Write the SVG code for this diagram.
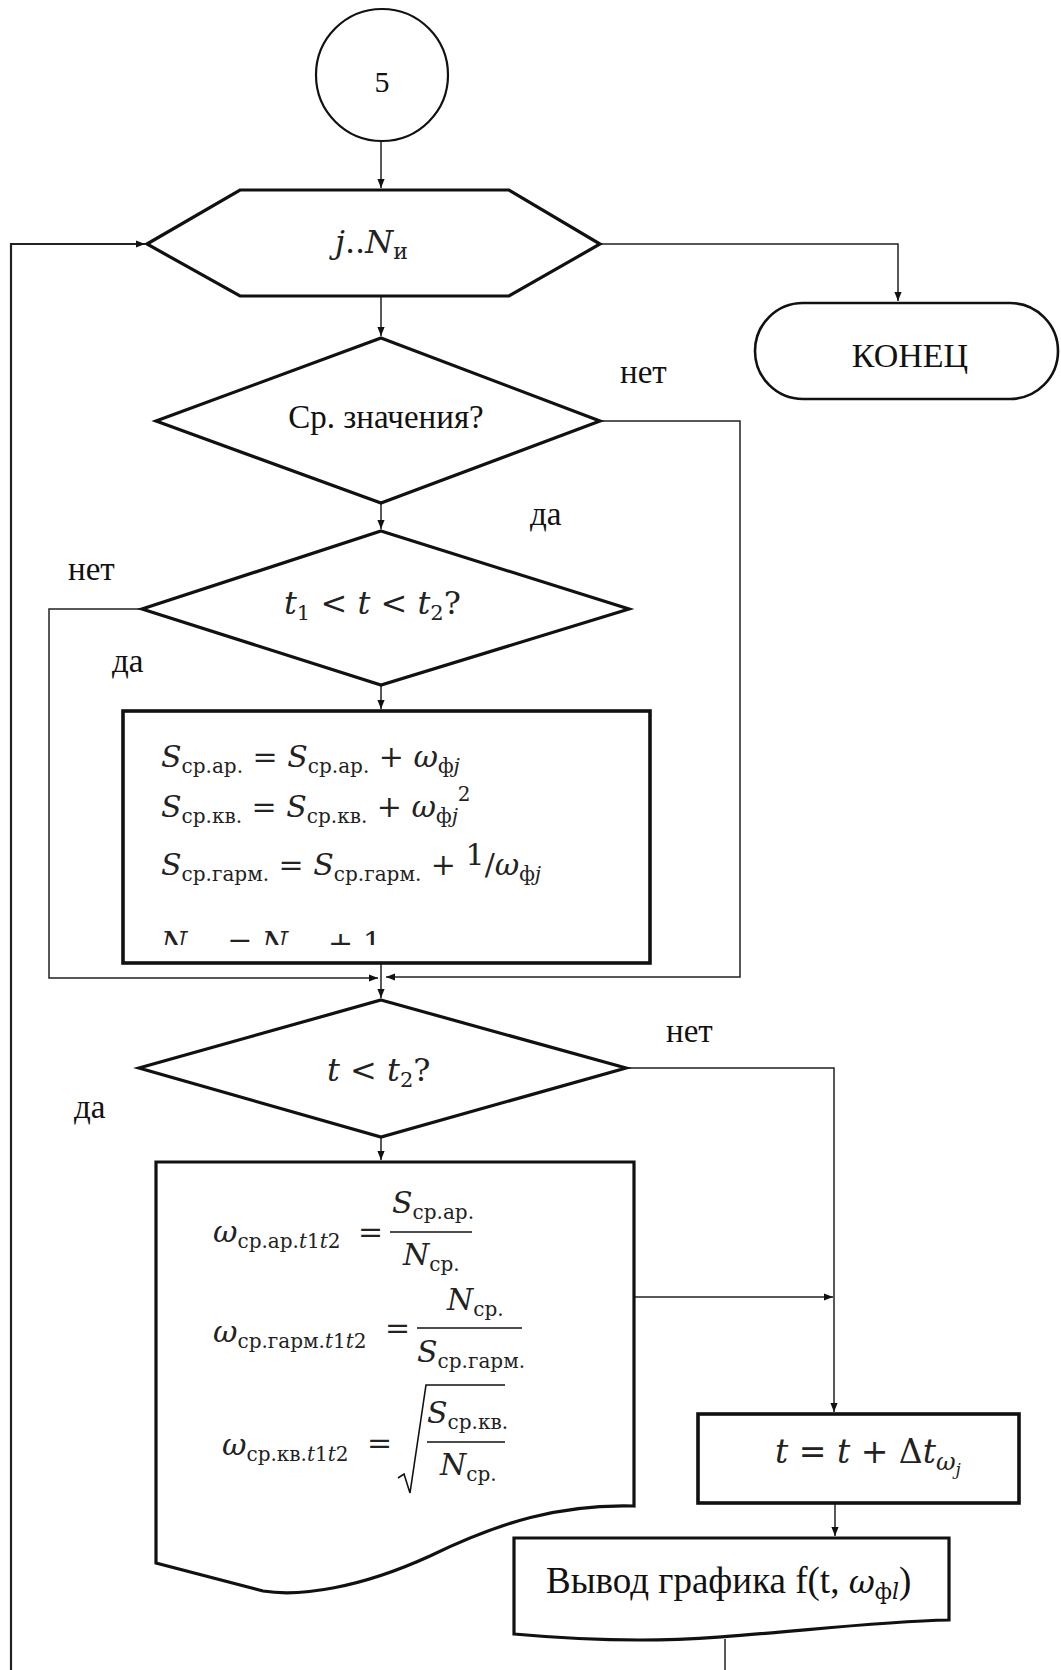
<svg xmlns="http://www.w3.org/2000/svg" width="1061" height="1670" viewBox="0 0 1061 1670">
<style>
.shape{fill:#fff;stroke:#111;stroke-width:3.2;stroke-linejoin:miter}
.thin{fill:none;stroke:#111;stroke-width:1.6}
.conn{fill:none;stroke:#222;stroke-width:1.5}
.lbl{font-family:"Liberation Serif","Times New Roman",serif;font-size:33px;fill:#111}
.m{font-family:"DejaVu Serif",serif;font-size:30px;fill:#222}
.i{font-style:italic}
.s{font-size:20px}
</style>
<defs>
<marker id="arr" viewBox="0 0 10 10" refX="10" refY="5" markerWidth="9" markerHeight="9" markerUnits="userSpaceOnUse" orient="auto">
<path d="M0,1 L10,5 L0,9 Z" fill="#111"/>
</marker>
<clipPath id="clipN"><rect x="125" y="900" width="520" height="45"/></clipPath>
</defs>
<rect width="1061" height="1670" fill="#fff"/>

<g id="connectors">
<path class="conn" d="M381,141 V188" marker-end="url(#arr)"/>
<path class="conn" d="M600,244 H898 V301" marker-end="url(#arr)"/>
<path class="conn" d="M381,296 V336" marker-end="url(#arr)"/>
<path class="conn" d="M600,421 H740 V977 H386" marker-end="url(#arr)"/>
<path class="conn" d="M381,503 V529" marker-end="url(#arr)"/>
<path class="conn" d="M142,609 H49 V978 H378" marker-end="url(#arr)"/>
<path class="conn" d="M381,685 V709" marker-end="url(#arr)"/>
<path class="conn" d="M381,963 V998" marker-end="url(#arr)"/>
<path class="conn" d="M626,1068 H834 V1412" marker-end="url(#arr)"/>
<path class="conn" d="M381,1137 V1160" marker-end="url(#arr)"/>
<path class="conn" d="M634,1297 H833" marker-end="url(#arr)"/>
<path class="conn" d="M835,1503 V1536" marker-end="url(#arr)"/>
<path class="conn" d="M725,1639 V1670"/>
<path class="conn" style="stroke-width:2.2" d="M11,1670 V244 H145" marker-end="url(#arr)"/>
</g>

<g id="start">
<circle cx="382" cy="75" r="66" fill="#fff" stroke="#111" stroke-width="2.2"/>
<text class="lbl" x="382" y="92" text-anchor="middle" style="font-size:30px">5</text>
</g>

<g id="loop">
<polygon class="shape" points="147,244 240,190 509,190 600,244 509,296 240,296"/>
<text class="m" style="font-size:32px" x="335" y="253"><tspan class="i">j</tspan>..<tspan class="i">N</tspan><tspan style="font-size:22px" dy="6">и</tspan></text>
</g>

<g id="end">
<rect x="755" y="303" width="303" height="96" rx="48" ry="48" fill="#fff" stroke="#111" stroke-width="2.6"/>
<text class="lbl" x="910" y="367" text-anchor="middle" style="font-size:34px">КОНЕЦ</text>
</g>

<g id="decision1">
<polygon class="shape" points="381,338 600,421 381,503 156,421"/>
<text class="lbl" x="386" y="428" text-anchor="middle">Ср. значения?</text>
</g>

<g id="labels">
<text class="lbl" x="620" y="383">нет</text>
<text class="lbl" x="530" y="525">да</text>
<text class="lbl" x="68" y="580">нет</text>
<text class="lbl" x="112" y="672">да</text>
<text class="lbl" x="666" y="1042">нет</text>
<text class="lbl" x="74" y="1118">да</text>
</g>

<g id="decision2">
<polygon class="shape" points="381,531 629,609 381,685 142,609"/>
<text class="m" style="font-size:32px" x="284" y="614"><tspan class="i">t</tspan><tspan style="font-size:21px" dy="6">1</tspan><tspan dy="-6"> &lt; </tspan><tspan class="i">t</tspan> &lt; <tspan class="i">t</tspan><tspan style="font-size:21px" dy="6">2</tspan><tspan dy="-6">?</tspan></text>
</g>

<g id="process1">
<rect class="shape" x="123" y="711" width="527" height="252" style="stroke-width:3.6"/>
<text class="m" x="161" y="767"><tspan class="i">S</tspan><tspan class="s" dy="6">ср.ар.</tspan><tspan dy="-6"> = </tspan><tspan class="i">S</tspan><tspan class="s" dy="6">ср.ар.</tspan><tspan dy="-6"> + </tspan><tspan class="i">ω</tspan><tspan class="s" dy="6">ф<tspan class="i">j</tspan></tspan></text>
<text class="m" x="161" y="817"><tspan class="i">S</tspan><tspan class="s" dy="6">ср.кв.</tspan><tspan dy="-6"> = </tspan><tspan class="i">S</tspan><tspan class="s" dy="6">ср.кв.</tspan><tspan dy="-6"> + </tspan><tspan class="i">ω</tspan><tspan class="s" dy="6">ф<tspan class="i">j</tspan></tspan><tspan class="s" dy="-22">2</tspan></text>
<text class="m" x="161" y="875"><tspan class="i">S</tspan><tspan class="s" dy="6">ср.гарм.</tspan><tspan dy="-6"> = </tspan><tspan class="i">S</tspan><tspan class="s" dy="6">ср.гарм.</tspan><tspan dy="-6"> + </tspan><tspan dy="-10">1</tspan><tspan dy="10">/</tspan><tspan class="i">ω</tspan><tspan class="s" dy="6">ф<tspan class="i">j</tspan></tspan></text>
<text class="m" x="161" y="953" clip-path="url(#clipN)"><tspan class="i">N</tspan><tspan class="s" dy="6">ср.</tspan><tspan dy="-6"> = </tspan><tspan class="i">N</tspan><tspan class="s" dy="6">ср.</tspan><tspan dy="-6"> + 1</tspan></text>
</g>

<g id="decision3">
<polygon class="shape" points="381,1000 626,1068 381,1137 139,1068"/>
<text class="m" style="font-size:32px" x="327" y="1081"><tspan class="i">t</tspan> &lt; <tspan class="i">t</tspan><tspan style="font-size:21px" dy="6">2</tspan><tspan dy="-6">?</tspan></text>
</g>

<g id="document1">
<path class="shape" d="M156,1162 H634 V1506 C560,1504 500,1522 430,1556 C360,1588 300,1597 263,1591 L156,1563 Z"/>
<text class="m" x="213" y="1242"><tspan class="i">ω</tspan><tspan class="s" dy="6">ср.ар.<tspan class="i">t</tspan>1<tspan class="i">t</tspan>2</tspan></text>
<text class="m" x="358" y="1242">=</text>
<line class="thin" x1="390" y1="1232" x2="472" y2="1232"/>
<text class="m" x="392" y="1213"><tspan class="i">S</tspan><tspan class="s" dy="6">ср.ар.</tspan></text>
<text class="m" x="403" y="1265"><tspan class="i">N</tspan><tspan class="s" dy="6">ср.</tspan></text>

<text class="m" x="213" y="1342"><tspan class="i">ω</tspan><tspan class="s" dy="6">ср.гарм.<tspan class="i">t</tspan>1<tspan class="i">t</tspan>2</tspan></text>
<text class="m" x="385" y="1338">=</text>
<line class="thin" x1="417" y1="1328" x2="522" y2="1328"/>
<text class="m" x="447" y="1310"><tspan class="i">N</tspan><tspan class="s" dy="6">ср.</tspan></text>
<text class="m" x="417" y="1362"><tspan class="i">S</tspan><tspan class="s" dy="6">ср.гарм.</tspan></text>

<text class="m" x="222" y="1455"><tspan class="i">ω</tspan><tspan class="s" dy="6">ср.кв.<tspan class="i">t</tspan>1<tspan class="i">t</tspan>2</tspan></text>
<text class="m" x="367" y="1453">=</text>
<path class="thin" d="M398,1478 L404,1474 L410,1493 L426,1385 H505"/>
<line class="thin" x1="427" y1="1442" x2="505" y2="1442"/>
<text class="m" x="427" y="1423"><tspan class="i">S</tspan><tspan class="s" dy="6">ср.кв.</tspan></text>
<text class="m" x="440" y="1475"><tspan class="i">N</tspan><tspan class="s" dy="6">ср.</tspan></text>
</g>

<g id="process2">
<rect class="shape" x="698" y="1414" width="321" height="89" style="stroke-width:3.6"/>
<text class="m" style="font-size:33px" x="775" y="1463"><tspan class="i">t</tspan> = <tspan class="i">t</tspan> + Δ<tspan class="i">t</tspan><tspan class="i" style="font-size:24px" dy="7">ω</tspan><tspan class="i" style="font-size:17px" dy="5">j</tspan></text>
</g>

<g id="document2">
<path class="shape" d="M514,1538 H949 V1620 C850,1622 740,1640 640,1640 Q580,1640 514,1634 Z"/>
<text class="lbl" style="font-size:37px" x="546" y="1593">Вывод графика f(t, <tspan class="i" style="font-family:'DejaVu Serif',serif;font-size:32px">ω</tspan><tspan style="font-family:'DejaVu Serif',serif;font-size:22px" dy="6">ф<tspan class="i">l</tspan></tspan><tspan dy="-6">)</tspan></text>
</g>
</svg>
